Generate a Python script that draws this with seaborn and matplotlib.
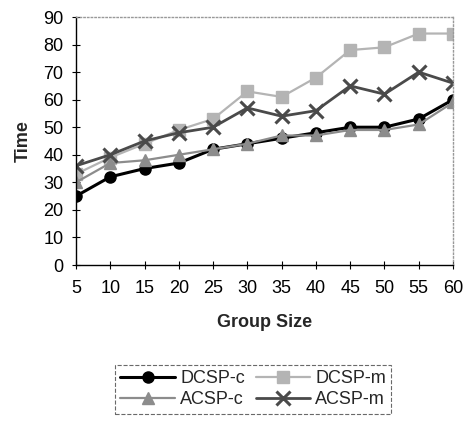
import matplotlib
matplotlib.use("Agg")
import matplotlib.pyplot as plt
import numpy as np
import pandas as pd
import seaborn as sns

# values
group_size = [5, 10, 15, 20, 25, 30, 35, 40, 45, 50, 55, 60]
dcsp_c = [25, 32, 35, 37, 42, 44, 46, 48, 50, 50, 53, 60]
dcsp_m = [33, 39, 44, 49, 53, 63, 61, 68, 78, 79, 84, 84]
acsp_c = [30, 37, 38, 40, 42, 44, 47, 47, 49, 49, 51, 59]
acsp_m = [36, 40, 45, 48, 50, 57, 54, 56, 65, 62, 70, 66]

series = {
    "DCSP-c": dcsp_c,
    "DCSP-m": dcsp_m,
    "ACSP-c": acsp_c,
    "ACSP-m": acsp_m,
}
styles = {
    "DCSP-c": dict(color="#000000", marker="o", ms=8, lw=2.2),
    "DCSP-m": dict(color="#b4b4b4", marker="s", ms=8, lw=1.6),
    "ACSP-c": dict(color="#8c8c8c", marker="^", ms=9, lw=1.6),
    "ACSP-m": dict(color="#4a4a4a", marker="x", ms=10, lw=2.0, mew=2.2),
}

df = pd.DataFrame(
    [(g, name, v) for name, vals in series.items() for g, v in zip(group_size, vals)],
    columns=["Group Size", "Series", "Time"],
)

sns.set_style("white")
plt.rcParams["font.family"] = ["Liberation Sans", "DejaVu Sans"]

fig = plt.figure(figsize=(4.64, 4.22), dpi=100)
ax = fig.add_axes([76 / 464, 1 - 265 / 422, (453 - 76) / 464, (265 - 17) / 422])

for name in ["DCSP-c", "DCSP-m", "ACSP-c", "ACSP-m"]:
    st = styles[name]
    sub = df[df["Series"] == name]
    sns.lineplot(
        data=sub, x="Group Size", y="Time", ax=ax, label=name,
        color=st["color"], marker=st["marker"], markersize=st["ms"],
        linewidth=st["lw"], markeredgewidth=st.get("mew", 1),
        markeredgecolor=st["color"],
    )

ax.set_xlim(5, 60)
ax.set_ylim(0, 90)
ax.set_xticks(group_size)
ax.set_yticks(np.arange(0, 91, 10))
ax.tick_params(axis="both", direction="inout", length=6, width=0.8,
               labelsize=13, colors="black", left=True, bottom=True)
ax.tick_params(axis="x", pad=8)
ax.tick_params(axis="y", pad=6)

for side in ["left", "bottom"]:
    ax.spines[side].set_color("black")
    ax.spines[side].set_linewidth(1.0)
for side in ["top", "right"]:
    ax.spines[side].set_color("#999999")
    ax.spines[side].set_linestyle(":")
    ax.spines[side].set_linewidth(1.0)

ax.set_xlabel("Group Size", fontsize=13, fontweight="bold", labelpad=12)
ax.set_ylabel("Time", fontsize=13, fontweight="bold", labelpad=8)

# matplotlib fills legend columns first; reorder so rows read like the reference
handles, labels = ax.get_legend_handles_labels()
order = [labels.index(n) for n in ["DCSP-c", "ACSP-c", "DCSP-m", "ACSP-m"]]
leg = ax.legend(
    [handles[i] for i in order], [labels[i] for i in order],
    ncol=2, loc="upper center", bbox_to_anchor=(0.47, -0.365),
    frameon=True, fancybox=False, fontsize=13, handlelength=3.0,
    columnspacing=0.6, handletextpad=0.3, borderpad=0.3, labelspacing=0.25,
)
leg.get_frame().set_edgecolor("#444444")
leg.get_frame().set_linestyle("--")
leg.get_frame().set_linewidth(0.8)

fig.savefig("out.png", dpi=100)
